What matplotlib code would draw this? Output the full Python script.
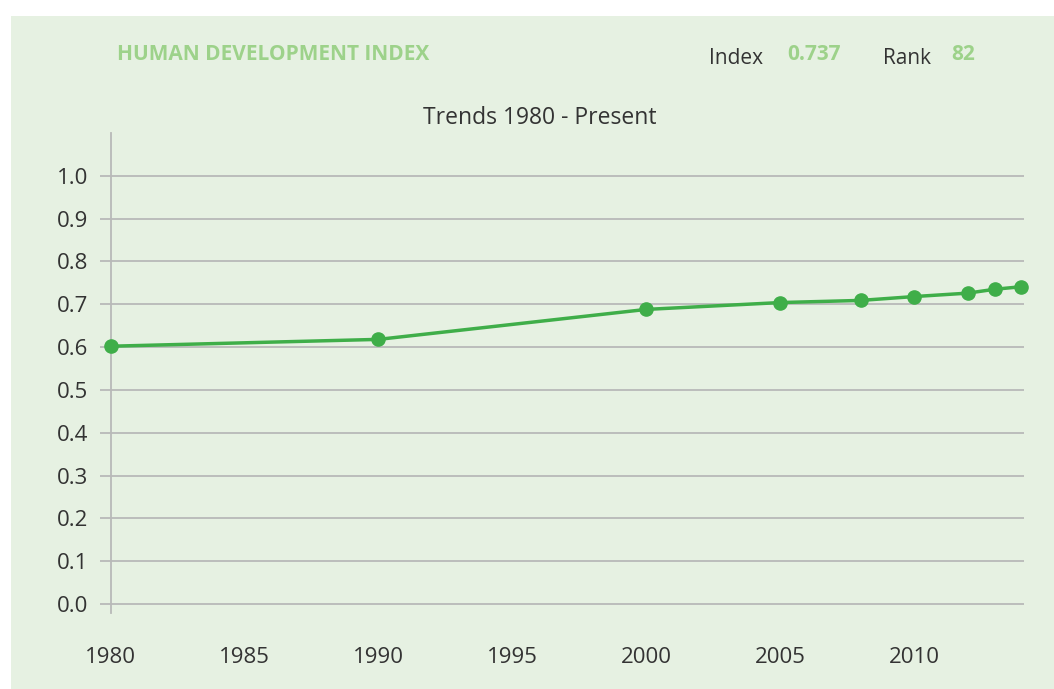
import matplotlib
matplotlib.use("Agg")
import matplotlib.pyplot as plt
from matplotlib.patches import Rectangle
from matplotlib import font_manager

years = [1980, 1990, 2000, 2005, 2008, 2010, 2012, 2013, 2014]
hdi = [0.602, 0.618, 0.688, 0.704, 0.709, 0.718, 0.726, 0.735, 0.741]
y_ticks = [0.0, 0.1, 0.2, 0.3, 0.4, 0.5, 0.6, 0.7, 0.8, 0.9, 1.0]
x_ticks = [1980, 1985, 1990, 1995, 2000, 2005, 2010]
header_title = "HUMAN DEVELOPMENT INDEX"
index_value = "0.737"
rank_value = "82"
chart_title = "Trends 1980 - Present"

names = {f.name for f in font_manager.fontManager.ttflist}
fam = "Liberation Sans Narrow" if "Liberation Sans Narrow" in names else "Open Sans"
plt.rcParams['font.family'] = [fam, 'DejaVu Sans']

W, H = 1054, 689
BG = "#e6f1e2"
LINE = "#3fae49"
LIGHT = "#9dd28a"
GRID = "#b8b9b8"
TXT = "#333333"

fig = plt.figure(figsize=(W / 100, H / 100), dpi=100)
fig.patch.set_facecolor("white")
fig.patches.append(Rectangle((11 / W, 0), 1 - 11 / W, 1 - 16 / H, transform=fig.transFigure,
                             facecolor=BG, edgecolor="none", zorder=-10))

def fx(px):
    return px / W

def fy(py):
    return 1 - py / H

fig.text(fx(117), fy(55), header_title, color=LIGHT, fontsize=15, fontweight="bold", va="center", ha="left")
fig.text(fx(709), fy(59), "Index", color=TXT, fontsize=15, va="center", ha="left")
fig.text(fx(787), fy(55), index_value, color=LIGHT, fontsize=15, fontweight="bold", va="center", ha="left")
fig.text(fx(883), fy(59), "Rank", color=TXT, fontsize=15, va="center", ha="left")
fig.text(fx(951), fy(55), rank_value, color=LIGHT, fontsize=15, fontweight="bold", va="center", ha="left")
fig.text(fx(540), fy(118), chart_title, color=TXT, fontsize=16.5, va="center", ha="center")

ymin, ymax = -0.02, 1.1
top_px = 133
bottom_px = 604 + 0.02 * 428
ax = fig.add_axes([fx(110.5), fy(bottom_px), fx(1024) - fx(110.5), (bottom_px - top_px) / H])
ax.set_facecolor("none")
ax.plot(years, hdi, color=LINE, lw=2.5, marker="o", ms=9.5, clip_on=False, zorder=3)
ax.set_xlim(1980, 2014.1)
ax.set_ylim(ymin, ymax)
ax.set_yticks(y_ticks)
ax.set_yticklabels([f"{v:.1f}" for v in y_ticks])
ax.set_xticks(x_ticks)
ax.yaxis.grid(True, color=GRID, lw=1.3)
ax.set_axisbelow(True)
for s in ["top", "right", "bottom"]:
    ax.spines[s].set_visible(False)
ax.spines["left"].set_color(GRID)
ax.spines["left"].set_linewidth(1.3)
ax.tick_params(axis="y", length=8, width=1.3, color=GRID, labelsize=16, labelcolor=TXT, pad=8)
ax.tick_params(axis="x", length=0, labelsize=16, labelcolor=TXT, pad=25)

fig.savefig("out.png", dpi=100, facecolor=fig.get_facecolor())
